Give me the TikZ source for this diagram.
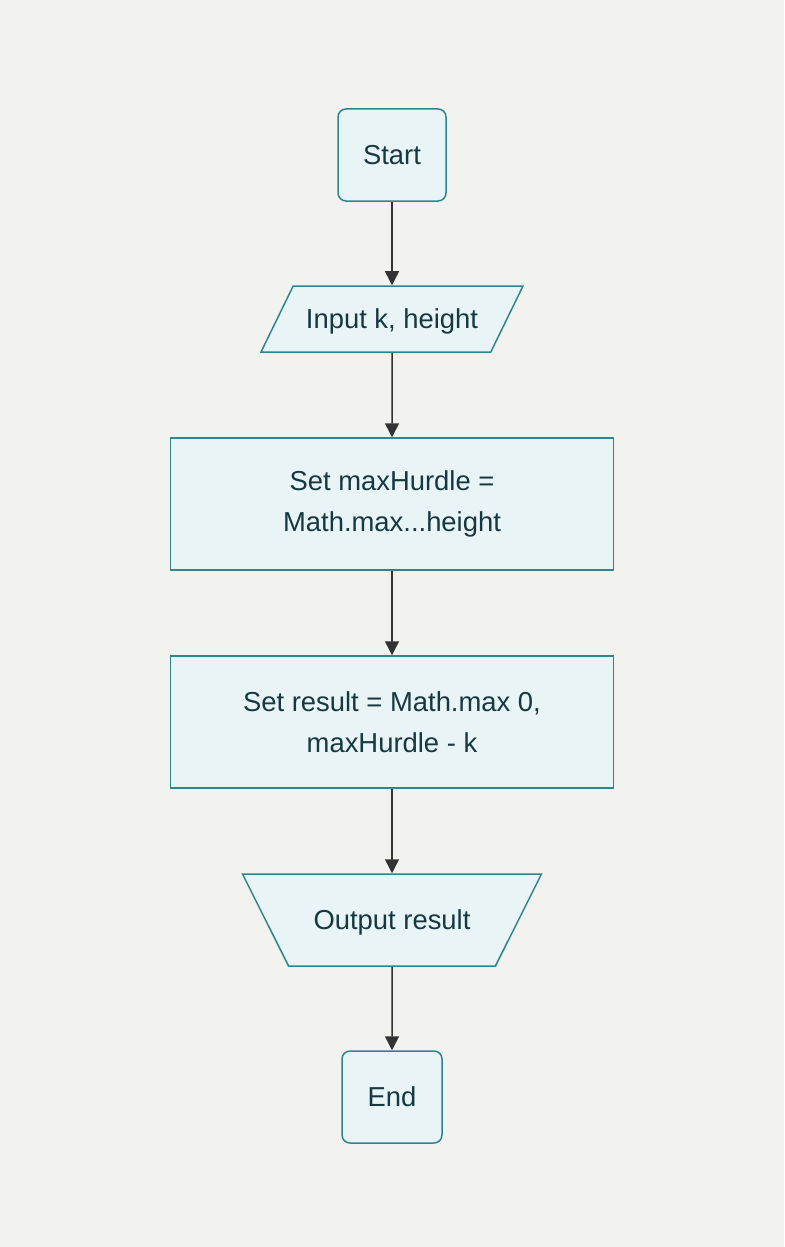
\documentclass[tikz,border=0pt]{standalone}
\usepackage{fontspec}
\setmainfont{Liberation Sans}
\usetikzlibrary{shapes.geometric,arrows.meta}
\definecolor{fond}{HTML}{F2F3EE}
\definecolor{remplissage}{HTML}{E8F4F5}
\definecolor{bord}{HTML}{2E8592}
\definecolor{texte}{HTML}{163840}
\definecolor{trait}{HTML}{333333}
\begin{document}
\begin{tikzpicture}[x=0.5pt,y=-0.5pt,line width=0.75pt]
    \tikzset{bloc/.style={draw=bord, fill=remplissage, text=texte, inner sep=0pt,
        font=\fontsize{13.7}{20.5}\selectfont, align=center}}
    \tikzset{terminal/.style={bloc, rectangle, rounded corners=4pt}}
    \tikzset{entree/.style={bloc, trapezium, trapezium stretches body, text height=11pt, text depth=2pt,
        inner ysep=10pt, trapezium left angle=64, trapezium right angle=116}}
    \tikzset{sortie/.style={bloc, trapezium, trapezium stretches body, text height=11pt, text depth=2pt,
        inner ysep=16.5pt, trapezium left angle=116.6, trapezium right angle=116.6}}
    \tikzset{fleche/.style={draw=trait, -{Triangle[length=7pt,width=7pt]}}}
    \fill[fond] (0,0) rectangle (784,1247);
    \useasboundingbox (0,0) rectangle (784,1247);
    \node[terminal, minimum width=54pt, minimum height=46pt] (debut) at (392, 155) {Start};
    \node[entree, minimum width=131pt] (lecture) at (392, 319) {Input k, height};
    \node[bloc, rectangle, minimum width=221.5pt, minimum height=66pt] (max) at (392, 504) {Set maxHurdle =\\Math.max...height};
    \node[bloc, rectangle, minimum width=221.5pt, minimum height=66pt] (resultat) at (392, 722) {Set result = Math.max 0,\\maxHurdle - k};
    \node[sortie, minimum width=149.5pt] (ecriture) at (392, 920) {Output result};
    \node[terminal, minimum width=50pt, minimum height=46pt] (fin) at (392, 1097) {End};
    \draw[fleche] (debut) -- (lecture);
    \draw[fleche] (lecture) -- (max);
    \draw[fleche] (max) -- (resultat);
    \draw[fleche] (resultat) -- (ecriture);
    \draw[fleche] (ecriture) -- (fin);
\end{tikzpicture}
\end{document}
